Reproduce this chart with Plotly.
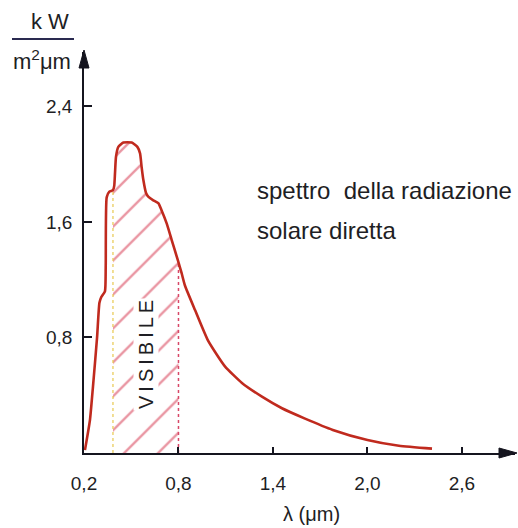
import plotly.graph_objects as go

# ---- data ----
wavelength = [0.206, 0.238, 0.257, 0.283, 0.298, 0.310, 0.333, 0.338, 0.344, 0.361,
              0.384, 0.392, 0.397, 0.403, 0.418, 0.45, 0.503, 0.539, 0.556, 0.566,
              0.577, 0.594, 0.608, 0.64, 0.672, 0.693, 0.725, 0.757, 0.789, 0.80,
              0.82, 0.841, 0.905, 0.987, 1.095, 1.203, 1.33, 1.457, 1.60, 1.78,
              2.0, 2.2, 2.41]
irradiance = [0.02, 0.23, 0.46, 0.80, 1.04, 1.08, 1.12, 1.30, 1.77, 1.81,
              1.82, 1.85, 1.94, 2.05, 2.12, 2.15, 2.15, 2.12, 2.075, 1.98,
              1.89, 1.80, 1.775, 1.75, 1.73, 1.68, 1.59, 1.475, 1.36, 1.32,
              1.245, 1.16, 0.99, 0.78, 0.60, 0.485, 0.39, 0.31, 0.24, 0.16,
              0.09, 0.05, 0.03]
visible_band = [0.384, 0.80]
x_tick_vals = [0.2, 0.8, 1.4, 2.0, 2.6]
x_tick_text = ["0,2", "0,8", "1,4", "2,0", "2,6"]
y_tick_vals = [0.8, 1.6, 2.4]
y_tick_text = ["0,8", "1,6", "2,4"]

X_RANGE = [0.2, 2.937]
Y_RANGE = [0, 2.777]

W, H = 518, 528
ML, MR, MT, MB = 84, 3, 52, 75
PW, PH = W - ML - MR, H - MT - MB


def px(xp):
    return (xp - ML) / PW


def py(yp):
    return (H - MB - yp) / PH


CURVE = "#c02a1e"
HATCH = "#d42c46"
AXIS = "#15151f"

fig = go.Figure()

# hatched visible region
vis_x = [w for w in wavelength if visible_band[0] <= w <= visible_band[1]]
vis_y = [v for w, v in zip(wavelength, irradiance) if visible_band[0] <= w <= visible_band[1]]
fig.add_trace(go.Scatter(
    x=vis_x, y=vis_y, mode="lines", line=dict(width=0, shape="spline", smoothing=0.5),
    fill="tozeroy", fillcolor="rgba(0,0,0,0)",
    fillpattern=dict(shape="/", fgcolor=HATCH, bgcolor="rgba(255,255,255,0)",
                     size=24, solidity=0.1),
    hoverinfo="skip", showlegend=False))

# band boundaries
fig.add_trace(go.Scatter(x=[visible_band[0], visible_band[0]], y=[0, vis_y[0]],
                         mode="lines", line=dict(color="#e8c850", width=1.2, dash="dot"),
                         showlegend=False, hoverinfo="skip"))
fig.add_trace(go.Scatter(x=[visible_band[1], visible_band[1]], y=[0, vis_y[-1]],
                         mode="lines", line=dict(color="#d84868", width=1.5, dash="dot"),
                         showlegend=False, hoverinfo="skip"))

# spectrum curve
fig.add_trace(go.Scatter(x=wavelength, y=irradiance, mode="lines",
                         line=dict(color=CURVE, width=2.6, shape="spline", smoothing=0.5),
                         showlegend=False, hoverinfo="skip"))

font = "Liberation Sans, Arial, sans-serif"
TXT = "#1e1e24"

annotations = [
    # y label
    dict(x=px(50), y=py(21), xref="paper", yref="paper", text="k W", showarrow=False,
         font=dict(family=font, size=22, color=TXT), xanchor="center", yanchor="middle"),
    dict(x=px(42), y=py(60), xref="paper", yref="paper", text="m<sup>2</sup>μm", showarrow=False,
         font=dict(family=font, size=22, color=TXT), xanchor="center", yanchor="middle"),
    # x label
    dict(x=px(311), y=py(514), xref="paper", yref="paper", text="λ (μm)", showarrow=False,
         font=dict(family=font, size=20, color=TXT), xanchor="center", yanchor="middle"),
    # description
    dict(x=px(255), y=py(190), xref="paper", yref="paper", text="spettro  della radiazione",
         showarrow=False, font=dict(family=font, size=24, color=TXT),
         xanchor="left", yanchor="middle"),
    dict(x=px(255), y=py(230), xref="paper", yref="paper", text="solare diretta",
         showarrow=False, font=dict(family=font, size=24, color=TXT),
         xanchor="left", yanchor="middle"),
    # VISIBILE
    dict(x=px(146), y=py(355), xref="paper", yref="paper", text="V\u2009I\u2009S\u2009I\u2009B\u2009I\u2009L\u2009E",
         showarrow=False, textangle=-90, font=dict(family=font, size=20, color=TXT),
         bgcolor="white", borderpad=1, xanchor="center", yanchor="middle"),
]

shapes = [
    # fraction bar of the unit label
    dict(type="line", xref="paper", yref="paper", x0=px(12), x1=px(74), y0=py(39), y1=py(39),
         line=dict(color="#2a2a50", width=2)),
    # arrowhead of the x axis
    dict(type="path", xref="x domain", yref="y domain", xsizemode="pixel", ysizemode="pixel",
         xanchor=1, yanchor=0, path="M2,0 L-16,5 L-16,-5 Z",
         fillcolor=AXIS, line=dict(color=AXIS, width=1)),
    # arrowhead of the y axis
    dict(type="path", xref="x domain", yref="y domain", xsizemode="pixel", ysizemode="pixel",
         xanchor=0, yanchor=1, path="M0,2 L-5,-16 L5,-16 Z",
         fillcolor=AXIS, line=dict(color=AXIS, width=1)),
]

fig.update_layout(
    width=W, height=H, margin=dict(l=ML, r=MR, t=MT, b=MB, pad=0),
    paper_bgcolor="white", plot_bgcolor="white",
    showlegend=False, annotations=annotations, shapes=shapes,
    xaxis=dict(range=X_RANGE, showgrid=False, zeroline=False,
               showline=True, linecolor=AXIS, linewidth=1.8,
               tickmode="array", tickvals=x_tick_vals, ticktext=x_tick_text,
               ticks="inside", ticklen=6, tickwidth=1.5, tickcolor=AXIS,
               tickfont=dict(family=font, size=19, color=TXT), ticklabelstandoff=12),
    yaxis=dict(range=Y_RANGE, showgrid=False, zeroline=False,
               showline=True, linecolor=AXIS, linewidth=1.8,
               tickmode="array", tickvals=y_tick_vals, ticktext=y_tick_text,
               ticks="inside", ticklen=8, tickwidth=1.5, tickcolor=AXIS,
               tickfont=dict(family=font, size=19, color=TXT), ticklabelstandoff=6),
)

fig.write_html("out.html")
